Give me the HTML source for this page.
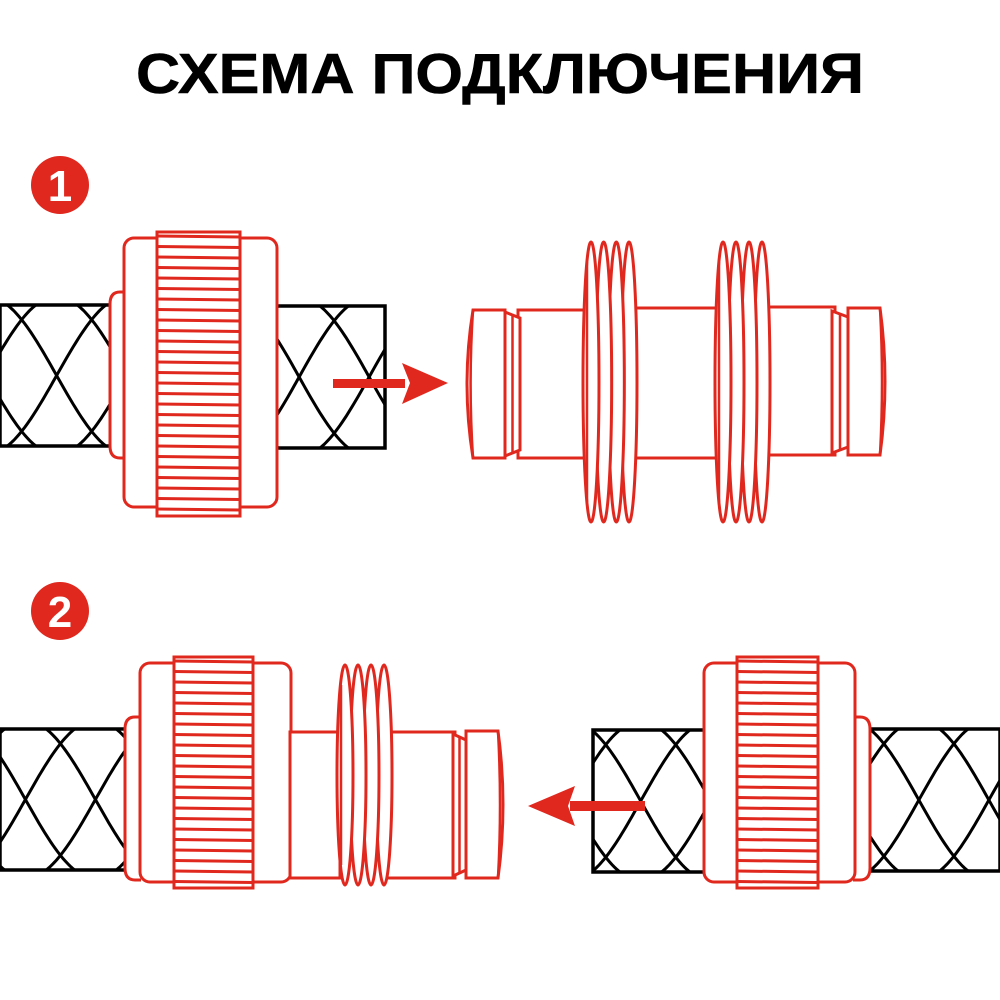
<!DOCTYPE html>
<html><head><meta charset="utf-8"><style>
html,body{margin:0;padding:0;background:#fff;}
svg{display:block}
</style></head><body>
<svg id="s" width="1000" height="1000" viewBox="0 0 1000 1000" xmlns="http://www.w3.org/2000/svg">
<rect width="1000" height="1000" fill="#fff"/>
<text x="500" y="93" text-anchor="middle" font-family="Liberation Sans, sans-serif" font-weight="bold" font-size="57" textLength="728" lengthAdjust="spacingAndGlyphs" fill="#000" stroke="#000" stroke-width="0.6">СХЕМА ПОДКЛЮЧЕНИЯ</text>
<circle cx="60" cy="185" r="29" fill="#e0281e"/>
<text x="60" y="201" text-anchor="middle" font-family="Liberation Sans, sans-serif" font-weight="bold" font-size="44" fill="#fff">1</text>
<circle cx="60" cy="611" r="29" fill="#e0281e"/>
<text x="60" y="627" text-anchor="middle" font-family="Liberation Sans, sans-serif" font-weight="bold" font-size="44" fill="#fff">2</text>
<g id="g"></g>
</svg>
<script>
var NS="http://www.w3.org/2000/svg",G=document.getElementById('g'),R="#e0281e";
function el(t,a){var e=document.createElementNS(NS,t);for(var k in a)e.setAttribute(k,a[k]);G.appendChild(e);return e;}
var cid=0;
function hose(x1,x2,y1,y2,ph){
  var id='c'+(cid++);
  var cp=document.createElementNS(NS,'clipPath');cp.setAttribute('id',id);
  var r=document.createElementNS(NS,'rect');r.setAttribute('x',x1);r.setAttribute('y',y1);r.setAttribute('width',x2-x1);r.setAttribute('height',y2-y1);cp.appendChild(r);
  G.appendChild(cp);
  var H=y2-y1,c=(y1+y2)/2,A=H*0.56,P=280;
  var gg=el('g',{'clip-path':'url(#'+id+')'});
  [0,Math.PI/2,Math.PI,Math.PI*1.5].forEach(function(p){
    var d='';
    for(var x=x1-5;x<=x2+5;x+=2){var y=c+A*Math.sin(2*Math.PI*(x-x1)/P+p+ph);d+=(d?'L':'M')+x.toFixed(1)+','+y.toFixed(1);}
    var e=document.createElementNS(NS,'path');e.setAttribute('d',d);e.setAttribute('fill','none');e.setAttribute('stroke','#000');e.setAttribute('stroke-width','3');gg.appendChild(e);
  });
  el('rect',{x:x1,y:y1,width:x2-x1,height:y2-y1,fill:'none',stroke:'#000','stroke-width':3.5});
}
function nut(x1,x2,y1,y2,kx1,kx2,ky1,ky2,cx1,cx2,cy1,cy2,collarLeft){
  if(collarLeft) el('path',{d:'M'+cx2+','+cy1+' L'+(cx1+10)+','+cy1+' Q'+cx1+','+cy1+' '+cx1+','+(cy1+12)+' L'+cx1+','+(cy2-12)+' Q'+cx1+','+cy2+' '+(cx1+10)+','+cy2+' L'+cx2+','+cy2,fill:'#fff',stroke:R,'stroke-width':3});
  else el('path',{d:'M'+cx1+','+cy1+' L'+(cx2-10)+','+cy1+' Q'+cx2+','+cy1+' '+cx2+','+(cy1+12)+' L'+cx2+','+(cy2-12)+' Q'+cx2+','+cy2+' '+(cx2-10)+','+cy2+' L'+cx1+','+cy2,fill:'#fff',stroke:R,'stroke-width':3});
  el('rect',{x:x1,y:y1,width:x2-x1,height:y2-y1,rx:10,fill:'#fff',stroke:R,'stroke-width':3});
  el('rect',{x:kx1,y:ky1,width:kx2-kx1,height:ky2-ky1,fill:'#fff',stroke:R,'stroke-width':3});
  for(var y=ky1+4;y<ky2-2;y+=10.5) el('line',{x1:kx1,y1:y,x2:kx2,y2:y+1,stroke:R,'stroke-width':3});
}
function rings(x1,x2,y1,y2){
  var w=(x2-x1),n=4,rx=8,step=(w-2*rx)/(n-1);
  for(var i=n-1;i>=0;i--){
    var xa=x1+rx+i*step;
    el('ellipse',{cx:xa,cy:(y1+y2)/2,rx:rx,ry:(y2-y1)/2,fill:'#fff',stroke:R,'stroke-width':3});
  }
  el('line',{x1:x1+4,y1:y1+20,x2:x1+4,y2:y2-20,stroke:R,'stroke-width':2.5});
}
function capR(x1,x2,y1,y2,ex){
  el('path',{d:'M'+x1+','+y1+' L'+x2+','+y1+' Q'+(x2+ex)+','+((y1+y2)/2)+' '+x2+','+y2+' L'+x1+','+y2+' Z',fill:'#fff',stroke:R,'stroke-width':3});
  el('path',{d:'M'+x2+','+y1+' Q'+(x2+ex*0.4)+','+((y1+y2)/2)+' '+x2+','+y2,fill:'none',stroke:R,'stroke-width':2.5});
}
function capL(x1,x2,y1,y2,ex){
  el('path',{d:'M'+x2+','+y1+' L'+x1+','+y1+' Q'+(x1-ex)+','+((y1+y2)/2)+' '+x1+','+y2+' L'+x2+','+y2+' Z',fill:'#fff',stroke:R,'stroke-width':3});
  el('path',{d:'M'+x1+','+y1+' Q'+(x1-ex*0.4)+','+((y1+y2)/2)+' '+x1+','+y2,fill:'none',stroke:R,'stroke-width':2.5});
}
function body(x1,x2,y1,y2){el('rect',{x:x1,y:y1,width:x2-x1,height:y2-y1,fill:'#fff',stroke:R,'stroke-width':3});}
function groove(x1,x2,y1,y2){
  el('path',{d:'M'+x1+','+y1+' L'+x2+','+(y1+6)+' L'+x2+','+(y2-6)+' L'+x1+','+y2+' Z',fill:'#fff',stroke:R,'stroke-width':3});
  el('line',{x1:(x1+x2)/2,y1:y1+4,x2:(x1+x2)/2,y2:y2-4,stroke:R,'stroke-width':2.5});
}
hose(0,112,305,446,0.3);
hose(275,385,306,448,2.6);
nut(124,277,238,507,157,240,232,516,110,126,292,458,true);
el('rect',{x:333,y:379,width:72,height:9,fill:R});
el('path',{d:'M448,383 L402,363 L410,383 L402,404 Z',fill:R});
body(518,590,310,458);
body(630,720,308,458);
body(762,835,307,455);
groove(505,520,312,456);
groove(832,848,311,453);
capL(473,505,310,458,12);
capR(848,880,308,455,10);
rings(583,637,242,522);
rings(715,770,242,522);
hose(0,127,729,870,1.0);
hose(593,706,730,872,0.5);
hose(868,1000,729,871,2.0);
nut(140,291,663,882,174,253,657,888,125,141,717,880,true);
nut(704,855,663,882,737,818,657,888,853,870,717,880,false);
body(290,340,732,878);
body(386,455,732,878);
groove(453,466,734,876);
capR(466,498,731,878,10);
rings(337,392,665,885);
el('rect',{x:570,y:801,width:75,height:10,fill:R});
el('path',{d:'M528,806 L575,786 L568,806 L575,826 Z',fill:R});
</script>
</body></html>
